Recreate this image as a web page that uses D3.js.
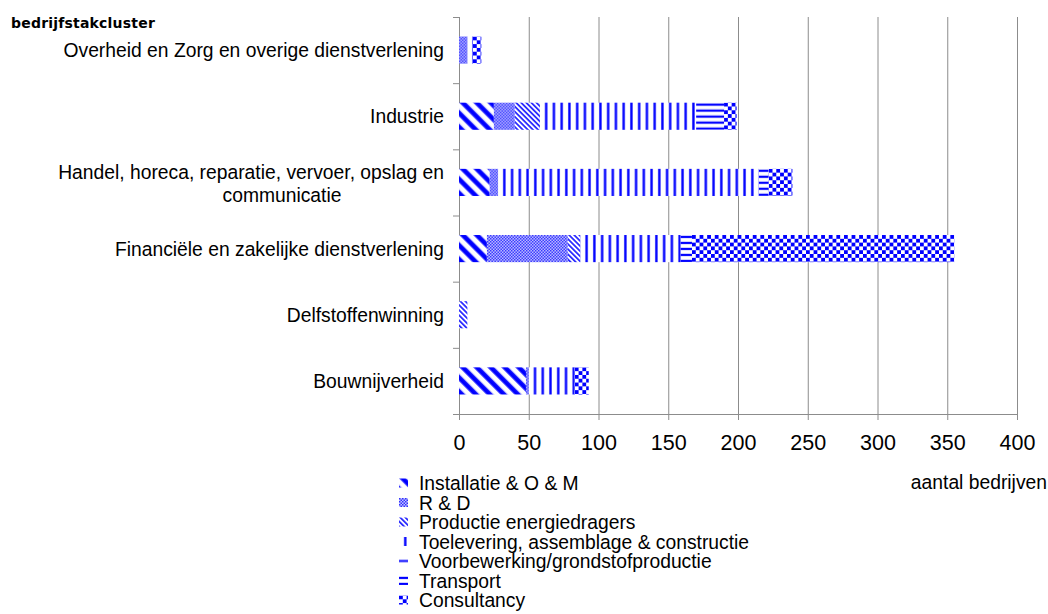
<!DOCTYPE html>
<html>
<head>
<meta charset="utf-8">
<script src="https://cdn.jsdelivr.net/npm/d3@7"></script>
<style>
  body { margin: 0; background: #ffffff; }
  svg { display: block; font-family: "Liberation Sans", Arial, sans-serif; }
</style>
</head>
<body>
<svg id="chart" width="1048" height="614"></svg>
<script>
// Sector clusters, listed top to bottom
const categories = [
  "Overheid en Zorg en overige dienstverlening",
  "Industrie",
  "Handel, horeca, reparatie, vervoer, opslag en communicatie",
  "Financiële en zakelijke dienstverlening",
  "Delfstoffenwinning",
  "Bouwnijverheid"
];
// Label lines as they are printed on the category axis
const categoryLines = [
  ["Overheid en Zorg en overige dienstverlening"],
  ["Industrie"],
  ["Handel, horeca, reparatie, vervoer, opslag en", "communicatie"],
  ["Financiële en zakelijke dienstverlening"],
  ["Delfstoffenwinning"],
  ["Bouwnijverheid"]
];

const seriesNames = [
  "Installatie & O & M",
  "R & D",
  "Productie energiedragers",
  "Toelevering, assemblage & constructie",
  "Voorbewerking/grondstofproductie",
  "Transport",
  "Consultancy"
];

// Number of companies per cluster, one array per activity
const installatie   = [0, 25, 22, 20, 0, 48];
const rd            = [6, 15, 6, 58, 0, 2];
const productie     = [0, 18, 0, 9, 6, 0];
const toelevering   = [4, 112, 187, 72, 0, 33];
const voorbewerking = [0, 0, 0, 0, 0, 0];
const transport     = [0, 20, 7, 8, 0, 0];
const consultancy   = [6, 9, 17, 188, 0, 10];

const xTicks = [0, 50, 100, 150, 200, 250, 300, 350, 400];
const xTitle = "aantal bedrijven";
const yTitle = "bedrijfstakcluster";

const seriesValues = [installatie, rd, productie, toelevering, voorbewerking, transport, consultancy];

const rows = categories.map((c, i) => {
  const r = { category: c };
  seriesNames.forEach((s, k) => { r[s] = seriesValues[k][i]; });
  return r;
});

const BLUE = "#0000ff";
const SOFT = "#8a8aff";

const svg = d3.select("#chart");

const x = d3.scaleLinear().domain([0, 400]).range([459, 1017]);
const y = d3.scaleBand().domain(categories).range([17, 414])
  .paddingInner(0.59).paddingOuter(0.295);

// ---- hatch fills, one per activity ----
const defs = svg.append("defs");

function pattern(id, w, h, rot) {
  const p = defs.append("pattern")
    .attr("id", id)
    .attr("patternUnits", "userSpaceOnUse")
    .attr("width", w).attr("height", h);
  if (rot) p.attr("patternTransform", `rotate(${rot})`);
  p.append("rect").attr("width", w).attr("height", h).attr("fill", "#ffffff");
  return p;
}

// wide downward diagonal
{
  const p = pattern("hatch-0", 9.9, 9.9, -45);
  p.append("rect").attr("x", 0).attr("width", 5.4).attr("height", 9.9).attr("fill", SOFT);
  p.append("rect").attr("x", 0.6).attr("width", 4.2).attr("height", 9.9).attr("fill", BLUE);
}
// fine checker
{
  const p = pattern("hatch-1", 3, 3, 0);
  p.select("rect").attr("fill", "#c4c4ff");
  p.append("rect").attr("x", 0).attr("y", 0).attr("width", 1.5).attr("height", 1.5).attr("fill", "#3030ff");
  p.append("rect").attr("x", 1.5).attr("y", 1.5).attr("width", 1.5).attr("height", 1.5).attr("fill", "#3030ff");
}
// narrow downward diagonal
{
  const p = pattern("hatch-2", 3.6, 3.6, -45);
  p.append("rect").attr("x", 0).attr("width", 1.8).attr("height", 3.6).attr("fill", SOFT);
  p.append("rect").attr("x", 0.3).attr("width", 1.2).attr("height", 3.6).attr("fill", BLUE);
}
// vertical lines
{
  const p = pattern("hatch-3", 7.75, 10, 0);
  p.append("rect").attr("x", 4.8).attr("width", 3).attr("height", 10).attr("fill", SOFT);
  p.append("rect").attr("x", 5.3).attr("width", 1.9).attr("height", 10).attr("fill", BLUE);
}
// single horizontal line
{
  const p = pattern("hatch-4", 10, 9, 0);
  p.append("rect").attr("y", 3.5).attr("width", 10).attr("height", 2).attr("fill", BLUE);
}
// dense horizontal lines
{
  const p = pattern("hatch-5", 10, 6, 0);
  p.append("rect").attr("y", 0.6).attr("width", 10).attr("height", 2.6).attr("fill", SOFT);
  p.append("rect").attr("y", 1).attr("width", 10).attr("height", 1.9).attr("fill", BLUE);
}
// large checker
{
  const p = pattern("hatch-6", 7.6, 7.6, 0);
  p.append("rect").attr("x", 0).attr("y", 0).attr("width", 3.8).attr("height", 3.8).attr("fill", BLUE);
  p.append("rect").attr("x", 3.8).attr("y", 3.8).attr("width", 3.8).attr("height", 3.8).attr("fill", BLUE);
}

// ---- gridlines ----
const plotTop = 17, plotBottom = 414;

svg.append("g")
  .attr("transform", `translate(0,${plotBottom})`)
  .call(d3.axisBottom(x).tickValues(xTicks).tickSize(-(plotBottom - plotTop)).tickFormat(""))
  .call(g => g.select(".domain").remove())
  .call(g => g.selectAll(".tick line").attr("stroke", "#8c8c8c").attr("stroke-width", 1));

// ---- value axis ----
svg.append("g")
  .attr("transform", `translate(0,${plotBottom})`)
  .call(d3.axisBottom(x).tickValues(xTicks).tickSize(6).tickSizeOuter(0))
  .call(g => g.select(".domain").attr("stroke", "#8c8c8c").attr("d", `M453,0.5H${x(400)}`))
  .call(g => g.selectAll(".tick line").attr("stroke", "#8c8c8c"))
  .call(g => g.selectAll(".tick text")
    .attr("y", 36).attr("dy", null)
    .attr("font-size", 21.5).attr("font-family", "'Liberation Sans', Arial, sans-serif")
    .attr("fill", "#000"));

// ---- category axis ----
const catAxis = svg.append("g");
catAxis.append("line")
  .attr("x1", x(0) + 0.5).attr("x2", x(0) + 0.5)
  .attr("y1", plotTop).attr("y2", plotBottom + 6)
  .attr("stroke", "#8c8c8c");
catAxis.selectAll("line.bound")
  .data(d3.range(categories.length + 1))
  .join("line")
  .attr("class", "bound")
  .attr("x1", x(0) - 6).attr("x2", x(0))
  .attr("y1", i => plotTop + i * y.step() + 0.5)
  .attr("y2", i => plotTop + i * y.step() + 0.5)
  .attr("stroke", "#8c8c8c");

// ---- stacked bars ----
const stack = d3.stack().keys(seriesNames)(rows);

const barLayer = svg.append("g");
stack.forEach((layer, k) => {
  barLayer.append("g")
    .selectAll("g")
    .data(layer.filter(d => d[1] - d[0] > 0))
    .join("g")
    .attr("transform", d => `translate(${x(d[0])},${y(d.data.category)})`)
    .append("rect")
    .attr("width", d => x(d[1]) - x(d[0]))
    .attr("height", y.bandwidth())
    .attr("fill", `url(#hatch-${k})`);
});

// ---- category labels ----
const labelX = 444;
const labels = svg.append("g").attr("font-size", 19.3).attr("fill", "#000");
categoryLines.forEach((lines, i) => {
  const cy = y(categories[i]) + y.bandwidth() / 2;
  if (lines.length === 1) {
    labels.append("text")
      .attr("x", labelX).attr("y", cy + 7)
      .attr("text-anchor", "end")
      .text(lines[0]);
  } else {
    labels.append("text")
      .attr("x", labelX).attr("y", cy - 3.5)
      .attr("text-anchor", "end")
      .text(lines[0]);
    labels.append("text")
      .attr("x", 282).attr("y", cy + 20)
      .attr("text-anchor", "middle")
      .text(lines[1]);
  }
});

// ---- axis titles ----
svg.append("text")
  .attr("x", 11).attr("y", 28)
  .attr("font-family", "'DejaVu Sans', sans-serif")
  .attr("font-weight", 700)
  .attr("font-size", 14)
  .attr("letter-spacing", 0.2)
  .attr("fill", "#000")
  .text(yTitle);

svg.append("text")
  .attr("x", 1047).attr("y", 489)
  .attr("text-anchor", "end")
  .attr("font-size", 19.3)
  .attr("fill", "#000")
  .text(xTitle);

// ---- legend ----
const legend = svg.append("g");
seriesNames.forEach((name, k) => {
  const cy = 483 + k * 19.5;
  const row = legend.append("g").attr("transform", `translate(399,${cy - 4.5})`);
  row.append("rect").attr("width", 9).attr("height", 9).attr("fill", `url(#hatch-${k})`);
  legend.append("text")
    .attr("x", 419).attr("y", cy + 7)
    .attr("font-size", 19.3)
    .attr("fill", "#000")
    .text(name);
});
</script>
</body>
</html>
